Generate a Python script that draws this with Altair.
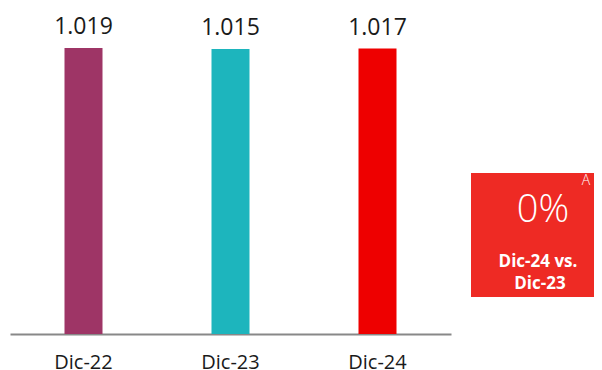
import altair as alt
import pandas as pd

categories = ["Dic-22", "Dic-23", "Dic-24"]
values = [1019, 1015, 1017]
value_labels = ["1.019", "1.015", "1.017"]
colors = ["#9E3566", "#1DB5BD", "#EE0000"]

box_big = "0%"
box_mark = "A"
box_lines = ["Dic-24 vs.", "Dic-23"]

df = pd.DataFrame({"cat": categories, "val": values, "lab": value_labels})

FONT = "Open Sans"

x = alt.X("cat:N", sort=categories, title=None,
          scale=alt.Scale(paddingInner=0, paddingOuter=0),
          axis=alt.Axis(labelAngle=0, ticks=False, domainColor="#888888", domainWidth=2,
                        labelFont=FONT, labelFontSize=20, labelColor="#1a1a1a",
                        labelPadding=18, grid=False))
y = alt.Y("val:Q", scale=alt.Scale(domain=[0, 1161.5], nice=False), axis=None)

bars = alt.Chart(df).mark_bar(size=38).encode(
    x=x, y=y,
    color=alt.Color("cat:N", scale=alt.Scale(domain=categories, range=colors), legend=None),
)
text = alt.Chart(df).mark_text(font=FONT, fontSize=23, color="#1a1a1a", dy=-14,
                                baseline="alphabetic").encode(x=x, y=y, text="lab:N")

one = pd.DataFrame({"k": [0]})
box = alt.Chart(one).mark_rect(color="#EE2A24").encode(
    x=alt.value(461), x2=alt.value(584), y=alt.value(165), y2=alt.value(289))
big = alt.Chart(one).mark_text(text=box_big, font=FONT, fontSize=38, fontWeight=300,
                               color="white", baseline="alphabetic").encode(
    x=alt.value(533), y=alt.value(214))
amark = alt.Chart(one).mark_text(text=box_mark, font=FONT, fontSize=14, fontWeight=300,
                                 color="white", baseline="alphabetic").encode(
    x=alt.value(576), y=alt.value(177))
l1 = alt.Chart(one).mark_text(text=box_lines[0], font=FONT, fontSize=17, fontWeight="bold",
                              color="white", baseline="alphabetic").encode(
    x=alt.value(528), y=alt.value(259))
l2 = alt.Chart(one).mark_text(text=box_lines[1], font=FONT, fontSize=17, fontWeight="bold",
                              color="white", baseline="alphabetic").encode(
    x=alt.value(530), y=alt.value(281))

chart = alt.layer(bars, text, box, big, amark, l1, l2).properties(
    width=441, height=326,
    autosize=alt.AutoSizeParams(type="none"),
    padding={"left": 2, "top": 0, "right": 143, "bottom": 36},
).configure_view(stroke=None)

chart.save("out.html", embed_options={"renderer": "svg", "actions": False})
